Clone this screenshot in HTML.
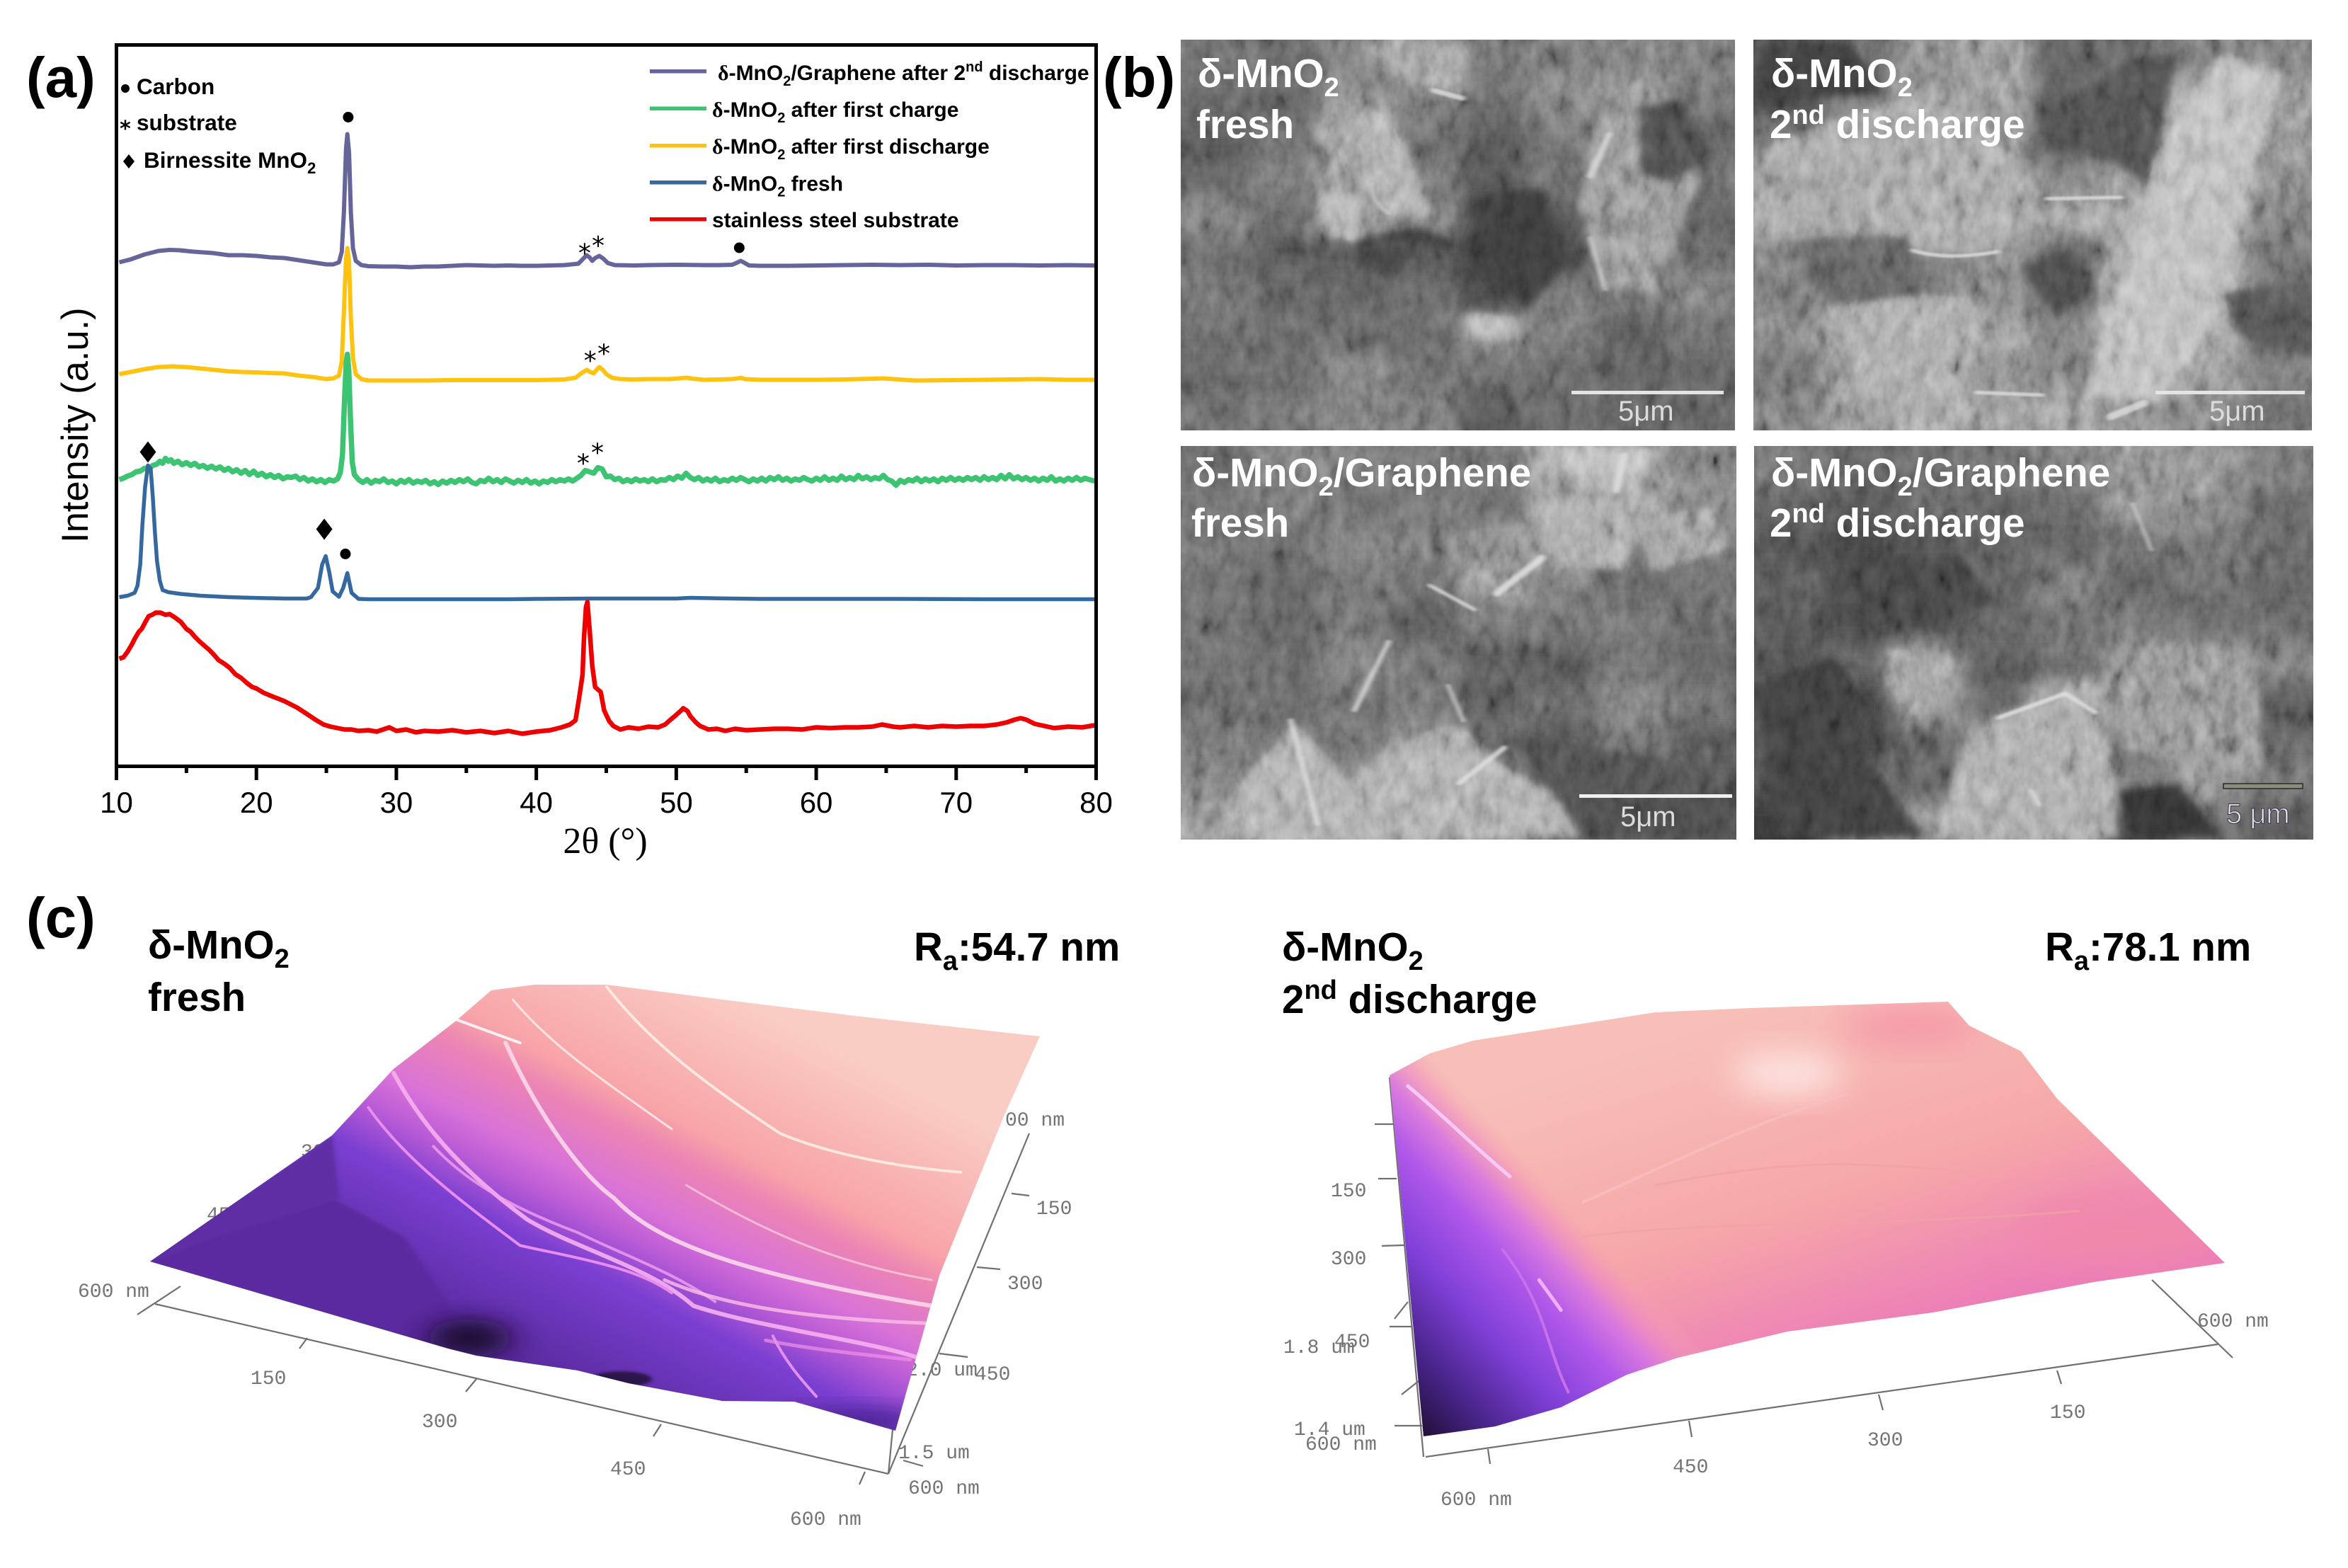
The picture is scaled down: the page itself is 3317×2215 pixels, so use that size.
<!DOCTYPE html>
<html lang="en">
<head>
<meta charset="utf-8">
<title>MnO2 XRD, SEM and AFM figure</title>
<style>
html,body{margin:0;padding:0;background:#fff;}
svg{display:block;}
text{font-family:"Liberation Sans",sans-serif;}
.b{font-weight:bold;}
.sym{font-family:"Liberation Serif",serif;font-weight:bold;}
.lg{font-size:30px;font-weight:bold;fill:#000;}
.key{font-size:31.5px;font-weight:bold;fill:#000;}
.sem{font-size:56.5px;font-weight:bold;fill:#fff;}
.cap{font-size:56.5px;font-weight:bold;fill:#000;}
.panel{font-size:80px;font-weight:bold;fill:#000;}
.afm{font-family:"Liberation Mono",monospace;font-size:28px;fill:#747474;}
.afmline{stroke:#707070;stroke-width:2.2;fill:none;}
.bar{font-size:40px;fill:#dcdcdc;}
</style>
</head>
<body>
<svg id="figure" xmlns="http://www.w3.org/2000/svg" width="3317" height="2215" viewBox="0 0 3317 2215">
<defs>
  <filter id="semBlur" x="-10%" y="-10%" width="120%" height="120%"><feGaussianBlur stdDeviation="14"/></filter>
  <filter id="flakeBlur" x="-30%" y="-30%" width="160%" height="160%"><feGaussianBlur stdDeviation="6 14"/></filter>
  <filter id="soft" x="-30%" y="-30%" width="160%" height="160%"><feGaussianBlur stdDeviation="3"/></filter>
  <filter id="softer" x="-50%" y="-50%" width="200%" height="200%"><feGaussianBlur stdDeviation="24"/></filter>
  <filter id="semNoise" x="0" y="0" width="100%" height="100%">
    <feTurbulence type="fractalNoise" baseFrequency="0.05 0.03" numOctaves="3" seed="7"/>
    <feColorMatrix type="matrix" values="0.6 0.6 0.6 0 -0.4  0.6 0.6 0.6 0 -0.4  0.6 0.6 0.6 0 -0.4  0 0 0 0 1"/>
  </filter>
  <clipPath id="clipSem1"><rect x="1668" y="56" width="783" height="552"/></clipPath>
  <clipPath id="clipSem2"><rect x="2477" y="56" width="789" height="552"/></clipPath>
  <clipPath id="clipSem3"><rect x="1668" y="630" width="785" height="556"/></clipPath>
  <clipPath id="clipSem4"><rect x="2478" y="630" width="790" height="556"/></clipPath>
  <linearGradient id="afmLeftGrad" gradientUnits="userSpaceOnUse" x1="663" y1="1887" x2="934" y2="1357">
    <stop offset="0" stop-color="#5a2ba0"/>
    <stop offset="0.27" stop-color="#7a3fd0"/>
    <stop offset="0.38" stop-color="#bb5cd6"/>
    <stop offset="0.46" stop-color="#d872d8"/>
    <stop offset="0.6" stop-color="#ec84b4"/>
    <stop offset="0.68" stop-color="#f8a4a8"/>
    <stop offset="1" stop-color="#f9ccc4"/>
  </linearGradient>
  <linearGradient id="afmRightBase" gradientUnits="userSpaceOnUse" x1="2500" y1="1420" x2="2650" y2="1900">
    <stop offset="0" stop-color="#f7bfb8"/>
    <stop offset="0.55" stop-color="#f6a8a8"/>
    <stop offset="1" stop-color="#ec7cb8"/>
  </linearGradient>
  <linearGradient id="afmRightLeft" gradientUnits="userSpaceOnUse" x1="2011" y1="2029" x2="2285" y2="1774">
    <stop offset="0" stop-color="#22103a" stop-opacity="1"/>
    <stop offset="0.2" stop-color="#48248a" stop-opacity="1"/>
    <stop offset="0.45" stop-color="#8040d8" stop-opacity="1"/>
    <stop offset="0.68" stop-color="#b058ea" stop-opacity="1"/>
    <stop offset="0.82" stop-color="#d878e0" stop-opacity="0.95"/>
    <stop offset="0.92" stop-color="#f090c0" stop-opacity="0.55"/>
    <stop offset="1" stop-color="#f6a8b0" stop-opacity="0"/>
  </linearGradient>
  <clipPath id="clipAfmLeft"><polygon points="212,1782 469,1604 556,1510 643,1443 694,1399 755,1391 857,1391 1020,1412 1224,1437 1469,1464 1418,1577 1327,1802 1265,2021 1122,1980 1020,1979 888,1954 816,1936 673,1915 633,1905 510,1869"/></clipPath>
  <clipPath id="clipAfmRight"><polygon points="1963,1519 2020,1488 2081,1470 2339,1430 2473,1424 2752,1415 2782,1449 2855,1485 2906,1552 3143,1784 2958,1811 2731,1854 2525,1881 2370,1918 2298,1942 2205,1988 2112,2015 2011,2029"/></clipPath>
</defs>

<rect x="0" y="0" width="3317" height="2215" fill="#fff"/>

<!-- Panel labels -->
<text class="panel" x="37" y="137">(a)</text>
<text class="panel" x="1558" y="137">(b)</text>
<text class="panel" x="37" y="1324">(c)</text>

<!-- XRD chart -->
<g id="xrdChart"></g>

<text transform="translate(124,767) rotate(-90)" font-size="52.5" fill="#000">Intensity (a.u.)</text>
<text x="855" y="1205" text-anchor="middle" font-size="52" fill="#000" style="font-family:'Liberation Serif',serif">2θ (°)</text>

<!-- phase key -->
<g>
  <circle cx="177" cy="125" r="6" fill="#000"/>
  <text class="key" x="193" y="133">Carbon</text>
  <text x="177" y="192" text-anchor="middle" font-size="30" style="font-family:'DejaVu Sans',sans-serif;font-weight:bold">*</text>
  <text class="key" x="193" y="184">substrate</text>
  <polygon points="182,218 190,228 182,238 174,228" fill="#000"/>
  <text class="key" x="203" y="237">Birnessite MnO<tspan font-size="22" dy="8">2</tspan></text>
</g>

<!-- series legend -->
<g>
  <rect x="918" y="98" width="80" height="5.5" fill="#65659a"/>
  <text class="lg" x="1014" y="113"><tspan class="sym">δ</tspan>-MnO<tspan font-size="20" dy="8">2</tspan><tspan dy="-8">/Graphene after 2</tspan><tspan font-size="20" dy="-12">nd</tspan><tspan dy="12"> discharge</tspan></text>
  <rect x="918" y="150.5" width="80" height="5.5" fill="#3dc473"/>
  <text class="lg" x="1006" y="165"><tspan class="sym">δ</tspan>-MnO<tspan font-size="20" dy="8">2</tspan><tspan dy="-8"> after first charge</tspan></text>
  <rect x="918" y="203" width="80" height="5.5" fill="#ffc20e"/>
  <text class="lg" x="1006" y="217"><tspan class="sym">δ</tspan>-MnO<tspan font-size="20" dy="8">2</tspan><tspan dy="-8"> after first discharge</tspan></text>
  <rect x="918" y="255" width="80" height="5.5" fill="#35689e"/>
  <text class="lg" x="1006" y="269.5"><tspan class="sym">δ</tspan>-MnO<tspan font-size="20" dy="8">2</tspan><tspan dy="-8"> fresh</tspan></text>
  <rect x="918" y="307" width="80" height="5.5" fill="#ee0000"/>
  <text class="lg" x="1006" y="321">stainless steel substrate</text>
</g>

<!-- SEM panels -->
<g id="sem1" clip-path="url(#clipSem1)"></g>
<g id="sem2" clip-path="url(#clipSem2)"></g>
<g id="sem3" clip-path="url(#clipSem3)"></g>
<g id="sem4" clip-path="url(#clipSem4)"></g>

<!-- SEM flakes (coordinates are in the micrograph tracing space) -->
<g clip-path="url(#clipSem1)">
  <g transform="translate(1660,30) scale(1.057,0.3827)" filter="url(#flakeBlur)">
    <polygon fill="#8e8e8e" points="250,80 390,80 390,270 300,200"/>
    <polygon fill="#a0a0a0" points="240,330 290,340 320,560 340,720 270,700 260,500"/>
    <polygon fill="#828282" points="560,400 620,320 700,600 640,1000 570,980 540,680"/>
    <polygon fill="#a8a8a8" points="195,640 250,640 245,810 200,780"/>
    <polygon fill="#aaaaaa" points="390,1080 460,1100 450,1180 390,1160"/>
    <polygon fill="#343434" points="250,800 330,760 400,860 420,950 470,1060 530,880 490,620 420,630 390,840"/>
    <polygon fill="#444444" points="620,320 680,290 720,500 660,600 620,560"/>
    <polygon fill="#3c3c3c" points="240,800 330,830 290,950 240,900"/>
  </g>
</g>
<g clip-path="url(#clipSem2)">
  <g transform="translate(1660,30) scale(1.057,0.3827)" filter="url(#flakeBlur)">
    <polygon fill="#b0b0b0" points="1400,120 1480,200 1450,480 1370,1200 1310,1400 1220,1380 1240,1120 1300,620 1330,400"/>
    <polygon fill="#969696" points="780,560 870,590 930,740 1000,850 1100,850 1130,740 1140,600 1080,350 960,300 800,450"/>
    <polygon fill="#9a9a9a" points="880,1060 1000,1010 1075,1040 1060,1300 1010,1370 920,1400"/>
    <polygon fill="#373737" points="780,90 900,70 950,270 850,280 780,320"/>
    <polygon fill="#464646" points="1150,340 1200,280 1280,130 1340,120 1300,600 1260,530 1180,430"/>
    <polygon fill="#424242" points="1130,900 1200,840 1220,1000 1180,1080 1150,1000"/>
    <polygon fill="#4b4b4b" points="1400,1000 1520,960 1520,1240 1420,1160"/>
    <polygon fill="#585858" points="830,810 980,790 1000,900 1000,1010 880,1050 840,950"/>
  </g>
</g>
<g clip-path="url(#clipSem3)">
  <g transform="translate(1660,620) scale(1.057,0.3827)" filter="url(#flakeBlur)">
    <polygon fill="#9a9a9a" points="480,230 590,220 620,350 600,480 500,460"/>
    <polygon fill="#8e8e8e" points="610,280 720,260 740,400 640,490"/>
    <polygon fill="#b0b0b0" points="510,30 640,30 620,200 540,180"/>
    <polygon fill="#9e9e9e" points="80,1310 130,1150 160,1050 230,1270 290,1130 380,1060 430,1200 500,1300 540,1470 70,1470"/>
    <polygon fill="#464646" points="440,1100 530,1130 640,1170 740,1320 540,1320 540,1470 500,1280"/>
    <polygon fill="#424242" points="540,1320 750,1320 750,1470 540,1470"/>
  </g>
</g>
<g clip-path="url(#clipSem4)">
  <g transform="translate(1660,620) scale(1.057,0.3827)" filter="url(#flakeBlur)">
    <polygon fill="#9a9a9a" points="1020,1470 1050,1150 1100,1030 1200,900 1240,1100 1260,1470"/>
    <polygon fill="#808080" points="1240,950 1340,750 1450,820 1450,1250 1270,1150"/>
    <polygon fill="#8e8e8e" points="950,780 1030,800 1040,950 990,1020 950,900"/>
    <polygon fill="#7c7c7c" points="1260,40 1420,50 1360,250 1280,220"/>
    <polygon fill="#373737" points="780,900 880,800 930,1000 900,1080 1000,1470 800,1470"/>
    <polygon fill="#3c3c3c" points="900,430 1050,430 1100,600 1000,700 920,620"/>
    <polygon fill="#2e2e2e" points="1260,1300 1340,1270 1400,1470 1280,1470"/>
  </g>
</g>

<g style="mix-blend-mode:overlay" opacity="0.5">
  <rect x="1668" y="56" width="783" height="552" filter="url(#semNoise)"/>
  <rect x="2477" y="56" width="789" height="552" filter="url(#semNoise)"/>
  <rect x="1668" y="630" width="785" height="556" filter="url(#semNoise)"/>
  <rect x="2478" y="630" width="790" height="556" filter="url(#semNoise)"/>
</g>

<g transform="translate(1660,30) scale(1.057,0.3827)" fill="none" stroke="#dcdcdc" stroke-linecap="round" filter="url(#soft)" opacity="0.85">
  <path vector-effect="non-scaling-stroke" stroke-width="5" d="M555,800 L575,990"/>
  <path vector-effect="non-scaling-stroke" stroke-width="9" d="M580,420 L555,570"/>
  <path vector-effect="non-scaling-stroke" stroke-width="4" d="M262,600 Q262,660 285,710"/>
  <path vector-effect="non-scaling-stroke" stroke-width="7" d="M345,255 L385,285"/>
  <path vector-effect="non-scaling-stroke" stroke-width="5" d="M985,845 Q1030,885 1100,850"/>
  <path vector-effect="non-scaling-stroke" stroke-width="5" d="M1165,655 L1265,650"/>
  <path vector-effect="non-scaling-stroke" stroke-width="5" d="M1070,1370 L1160,1380"/>
  <path vector-effect="non-scaling-stroke" stroke-width="10" d="M1250,1460 L1295,1410"/>
</g>
<g transform="translate(1660,620) scale(1.057,0.3827)" fill="none" stroke="#e2e2e2" stroke-linecap="round" filter="url(#soft)" opacity="0.85">
  <path vector-effect="non-scaling-stroke" stroke-width="7" d="M155,1040 L190,1420"/>
  <path vector-effect="non-scaling-stroke" stroke-width="10" d="M430,570 L490,440"/>
  <path vector-effect="non-scaling-stroke" stroke-width="5" d="M365,910 L385,1040"/>
  <path vector-effect="non-scaling-stroke" stroke-width="7" d="M240,1000 L285,750"/>
  <path vector-effect="non-scaling-stroke" stroke-width="7" d="M380,1270 L440,1140"/>
  <path vector-effect="non-scaling-stroke" stroke-width="5" d="M340,540 L400,630"/>
  <path vector-effect="non-scaling-stroke" stroke-width="6" d="M1100,1030 L1190,940 L1230,1010"/>
  <path vector-effect="non-scaling-stroke" stroke-width="4" d="M1280,240 L1305,410"/>
  <path vector-effect="non-scaling-stroke" stroke-width="6" d="M1145,1300 L1155,1350"/>
  <path vector-effect="non-scaling-stroke" stroke-width="8" d="M600,60 L590,190"/>
</g>

<!-- SEM captions -->
<text class="sem" x="1692" y="123">δ-MnO<tspan font-size="38" dy="13">2</tspan></text>
<text class="sem" x="1690" y="195">fresh</text>
<text class="sem" x="2502" y="123">δ-MnO<tspan font-size="38" dy="13">2</tspan></text>
<text class="sem" x="2500" y="195">2<tspan font-size="38" dy="-20">nd</tspan><tspan dy="20"> discharge</tspan></text>
<text class="sem" x="1684" y="687">δ-MnO<tspan font-size="38" dy="13">2</tspan><tspan dy="-13">/Graphene</tspan></text>
<text class="sem" x="1683" y="758">fresh</text>
<text class="sem" x="2502" y="687">δ-MnO<tspan font-size="38" dy="13">2</tspan><tspan dy="-13">/Graphene</tspan></text>
<text class="sem" x="2500" y="758">2<tspan font-size="38" dy="-20">nd</tspan><tspan dy="20"> discharge</tspan></text>

<!-- SEM scale bars -->
<rect x="2220" y="552" width="215" height="5" fill="#e4e4e4"/>
<text class="bar" x="2286" y="594">5μm</text>
<rect x="3045" y="552" width="211" height="5" fill="#e4e4e4"/>
<text class="bar" x="3121" y="594">5μm</text>
<rect x="2231" y="1122" width="216" height="5" fill="#f0f0f0"/>
<text class="bar" x="2289" y="1167">5μm</text>
<rect x="3141" y="1107" width="112" height="7" fill="#8c8c7c" stroke="#2a2a2a" stroke-width="1.5"/>
<text class="bar" x="3145" y="1163" fill="#c8c4d0" stroke="#3a3048" stroke-width="1">5 μm</text>

<!-- AFM left -->
<g>
  <text class="cap" x="209" y="1354">δ-MnO<tspan font-size="38" dy="13">2</tspan></text>
  <text class="cap" x="209" y="1428">fresh</text>
  <text class="cap" x="1291" y="1357">R<tspan font-size="38" dy="13">a</tspan><tspan dy="-13">:54.7 nm</tspan></text>

  <g>
    <path class="afmline" d="M219,1842 L1255,2082 M1255,2082 L1454,1601 M1255,2082 L1276,1863"/>
    <path class="afmline" d="M194,1857 L255,1817 M423,1905 L434,1890 M658,1966 L673,1948 M923,2029 L934,2012 M1214,2097 L1222,2079 M1276,2063 L1304,2071 M1327,1912 L1367,1917 M1380,1790 L1413,1793 M1429,1686 L1454,1689 M1276,1863 L1296,1878"/>
    <text class="afm" x="110" y="1832">600 nm</text>
    <text class="afm" x="354" y="1955">150</text>
    <text class="afm" x="596" y="2016">300</text>
    <text class="afm" x="862" y="2083">450</text>
    <text class="afm" x="1116" y="2154">600 nm</text>
    <text class="afm" x="1283" y="2110">600 nm</text>
    <text class="afm" x="1269" y="2060">1.5 um</text>
    <text class="afm" x="1280" y="1943">2.0 um</text>
    <text class="afm" x="1377" y="1949">450</text>
    <text class="afm" x="1423" y="1821">300</text>
    <text class="afm" x="1464" y="1715">150</text>
    <text class="afm" x="1420" y="1590">00 nm</text>
    <text class="afm" x="425" y="1635">30</text>
    <text class="afm" x="292" y="1724">45</text>
  </g>

  <g clip-path="url(#clipAfmLeft)">
    <rect x="150" y="1370" width="1350" height="680" fill="url(#afmLeftGrad)"/>
    <g transform="translate(0,1260) scale(1.0204,0.609)">
      <polygon points="208,858 460,710 560,800 620,950 650,1060 500,1000" fill="#5c2ca0" filter="url(#soft)"/>
      <polygon points="460,565 470,710 300,800 208,858" fill="#5e2ea4" filter="url(#soft)"/>
      <ellipse cx="650" cy="1035" rx="58" ry="45" fill="#1c0e30" filter="url(#softer)"/>
      <ellipse cx="860" cy="1130" rx="42" ry="18" fill="#2a1548" filter="url(#soft)"/>
      <ellipse cx="1180" cy="1230" rx="100" ry="30" fill="#4a2490" filter="url(#softer)"/>
      <g fill="none" stroke-linecap="round">
        <path vector-effect="non-scaling-stroke" stroke="#fbe8e0" stroke-width="4" d="M840,220 C900,350 980,450 1080,560 C1150,610 1250,640 1330,650"/>
        <path vector-effect="non-scaling-stroke" stroke="#fde4e4" stroke-width="3" d="M710,250 C760,350 820,420 930,550"/>
        <path vector-effect="non-scaling-stroke" stroke="#fdd8ea" stroke-width="6" opacity="0.9" d="M700,350 C740,500 800,650 850,710 C900,800 1000,880 1290,960"/>
        <path vector-effect="non-scaling-stroke" stroke="#f8b0f0" stroke-width="6" opacity="0.9" d="M545,420 C590,560 650,660 730,760 C800,830 900,870 960,960 C1050,1010 1200,1040 1270,1080"/>
        <path vector-effect="non-scaling-stroke" stroke="#fff0f4" stroke-width="4" d="M630,295 L720,350"/>
        <path vector-effect="non-scaling-stroke" stroke="#e88cf0" stroke-width="4" d="M510,500 C560,620 640,720 720,820 C800,850 880,870 930,930"/>
        <path vector-effect="non-scaling-stroke" stroke="#e090f0" stroke-width="4" d="M1070,1030 C1090,1100 1120,1150 1130,1170"/>
        <path vector-effect="non-scaling-stroke" stroke="#fbd6e0" stroke-width="3" opacity="0.7" d="M950,680 C1050,780 1150,860 1290,900"/>
        <path vector-effect="non-scaling-stroke" stroke="#f4a0f0" stroke-width="4" opacity="0.8" d="M600,590 C650,680 720,740 800,790 C860,840 930,880 990,950"/>
        <path vector-effect="non-scaling-stroke" stroke="#fbc0e8" stroke-width="5" opacity="0.8" d="M920,900 C1000,960 1120,990 1280,1000"/>
        <path vector-effect="non-scaling-stroke" stroke="#f090e8" stroke-width="5" opacity="0.7" d="M1060,1040 C1120,1060 1180,1070 1260,1085"/>
      </g>
    </g>
  </g>
</g>

<!-- AFM right -->
<g>
  <text class="cap" x="1811" y="1357">δ-MnO<tspan font-size="38" dy="13">2</tspan></text>
  <text class="cap" x="1811" y="1431">2<tspan font-size="38" dy="-20">nd</tspan><tspan dy="20"> discharge</tspan></text>
  <text class="cap" x="2889" y="1357">R<tspan font-size="38" dy="13">a</tspan><tspan dy="-13">:78.1 nm</tspan></text>

  <g>
    <path class="afmline" d="M2014,2058 L3133,1899 M2011,2058 L1963,1522 M3040,1808 L3154,1918"/>
    <path class="afmline" d="M2102,2047 L2105,2068 M2386,2007 L2390,2030 M2654,1970 L2660,1992 M2906,1936 L2912,1955 M1942,1588 L1970,1588 M1947,1665 L1973,1665 M1952,1760 L1984,1759 M1963,1874 L1994,1874 M1970,2014 L2009,2014 M1970,1863 L1989,1839 M1980,1970 L2004,1951"/>
    <text class="afm" x="1880" y="1690">150</text>
    <text class="afm" x="1880" y="1786">300</text>
    <text class="afm" x="1813" y="1911">1.8 um</text>
    <text class="afm" x="1885" y="1903">450</text>
    <text class="afm" x="1828" y="2027">1.4 um</text>
    <text class="afm" x="1844" y="2048">600 nm</text>
    <text class="afm" x="2035" y="2126">600 nm</text>
    <text class="afm" x="2363" y="2080">450</text>
    <text class="afm" x="2638" y="2042">300</text>
    <text class="afm" x="2896" y="2003">150</text>
    <text class="afm" x="3104" y="1874">600 nm</text>
  </g>

  <g clip-path="url(#clipAfmRight)">
    <rect x="1950" y="1400" width="1210" height="650" fill="url(#afmRightBase)"/>
    <ellipse cx="2525" cy="1516" rx="80" ry="30" fill="#fde6e2" filter="url(#softer)"/>
    <ellipse cx="2700" cy="1450" rx="100" ry="26" fill="#f496a8" filter="url(#softer)"/>
    <ellipse cx="3000" cy="1740" rx="150" ry="50" fill="#f088ac" filter="url(#softer)"/>
    <rect x="1950" y="1400" width="1210" height="650" fill="url(#afmRightLeft)"/>
    <g transform="translate(1700,1260) scale(1.031,0.609)" fill="none" stroke-linecap="round">
      <path vector-effect="non-scaling-stroke" stroke="#f8c8f8" stroke-width="5" d="M280,450 C330,520 370,590 420,660"/>
      <path vector-effect="non-scaling-stroke" stroke="#f0b0f8" stroke-width="5" d="M460,900 L490,970"/>
      <path vector-effect="non-scaling-stroke" stroke="#c870ec" stroke-width="4" d="M410,830 C470,960 470,1060 500,1160"/>
      <path vector-effect="non-scaling-stroke" stroke="#f8c0c4" stroke-width="4" opacity="0.7" d="M520,720 C640,630 760,530 880,470"/>
      <path vector-effect="non-scaling-stroke" stroke="#f0a4a4" stroke-width="3" opacity="0.7" d="M620,680 C800,620 900,620 1100,660"/>
      <path vector-effect="non-scaling-stroke" stroke="#f0a4a4" stroke-width="3" opacity="0.7" d="M520,800 C700,760 900,780 1200,740"/>
    </g>
  </g>
</g>

<script>
// ---- XRD data: [2-theta in degrees, intensity in a.u. counts] ----
const xMajorTicks = [10, 20, 30, 40, 50, 60, 70, 80];
const xMinorTicks = [15, 25, 35, 45, 55, 65, 75];

const grapheneDischargeTrace = [[10.2,712],[11,716],[12,723],[13,728],[13.8,729.5],[14.5,729],[15.5,727],[16.9,725],[18,722],[19,722],[20,721],[21,719],[22,718],[23,715],[24,712],[25,709],[25.5,709],[25.9,712],[26.1,727],[26.25,782],[26.4,872],[26.5,893],[26.62,867],[26.75,782],[26.9,732],[27.1,714],[27.5,708],[28,706.5],[29,706],[30,706],[31,705],[32,706],[33,706],[34,707],[35,708],[36,707.5],[37,707],[38,707.5],[39,707],[40,707],[41,707.5],[42,708],[43,710],[43.3,716],[43.6,722],[43.8,719],[44,714],[44.2,718],[44.5,721],[44.8,717],[45.1,711],[45.6,708],[47,707.5],[48,708],[50,708.5],[52,708],[53,708],[54,708.5],[54.4,712],[54.6,714],[54.8,712],[55.2,707.5],[56,707],[58,707],[60,707.5],[62,708],[64,708.5],[66,708],[68,708.5],[70,707.5],[72,708],[74,708],[76,707.5],[78,708],[79.9,707.5]];

const firstDischargeTrace = [[10.2,554],[11,557],[12,561],[13,564],[14,565],[15,564],[16,562],[17,560],[18,558],[19,557],[20,556.5],[21,555.5],[22,555],[23,552],[24,550],[25,547],[25.5,548],[25.9,552],[26.1,572],[26.25,642],[26.4,717],[26.5,732],[26.62,712],[26.75,632],[26.9,577],[27.1,554],[27.5,547],[28,545],[30,545],[32,545],[34,545.5],[36,545.5],[38,545.5],[40,545.5],[41,546],[42,546.5],[42.8,549],[43.2,555],[43.6,560],[43.85,557],[44.1,555],[44.3,560],[44.5,564],[44.75,560],[45,554],[45.4,549],[46,547],[47,546.5],[48,547],[49.5,547],[50.2,548],[50.7,549],[51.2,547.5],[52,546],[54,547],[54.4,548],[54.6,549],[54.9,547],[56,546],[58,546],[60,546],[62,546.5],[64,547.5],[64.8,548],[65.5,547],[67,545],[70,545.5],[72,546],[74,546.5],[76,547],[78,546],[79.9,546]];

const firstChargeTrace = [[10.2,405],[10.5,407],[10.8,410],[11.1,412],[11.4,416],[11.7,417],[12,421],[12.3,420],[12.6,425],[12.9,427],[13.1,431],[13.3,428],[13.5,435],[13.7,431],[13.9,433],[14.1,428],[14.4,431],[14.7,426],[15,429],[15.3,425],[15.6,428],[15.9,423],[16.2,425],[16.5,421],[16.8,424],[17.1,420],[17.4,423],[17.7,418],[18,421],[18.3,416],[18.6,419],[18.9,414],[19.2,418],[19.5,412],[19.8,417],[20.1,411],[20.4,414],[20.7,409],[21,412],[21.3,408],[21.6,411],[21.9,406],[22.2,409],[22.5,408],[22.8,410],[23.1,405],[23.4,408],[23.7,403],[24,406],[24.3,402],[24.6,405],[24.9,401],[25.2,405],[25.5,403],[25.8,406],[26,415],[26.15,440],[26.3,520],[26.42,570],[26.5,582],[26.6,560],[26.72,490],[26.85,430],[27,412],[27.3,405],[27.6,401],[27.9,405],[28.2,400],[28.5,404],[28.8,402],[29.1,406],[29.4,401],[29.7,403],[30,399],[30.3,404],[30.6,401],[30.9,405],[31.2,400],[31.5,403],[31.8,401],[32.1,404],[32.4,399],[32.7,402],[33,398],[33.3,403],[33.6,400],[33.9,404],[34.2,401],[34.5,405],[34.8,402],[35.1,406],[35.4,401],[35.7,399],[36,404],[36.3,402],[36.6,407],[36.9,402],[37.2,405],[37.5,401],[37.8,406],[38.1,403],[38.4,400],[38.7,404],[39,401],[39.3,405],[39.6,400],[39.9,403],[40.2,399],[40.5,403],[40.8,401],[41.1,405],[41.4,402],[41.7,405],[42,403],[42.3,406],[42.6,403],[42.9,407],[43.2,411],[43.5,418],[43.8,416],[44.1,414],[44.4,422],[44.7,420],[45,409],[45.3,410],[45.6,405],[45.9,407],[46.2,402],[46.5,405],[46.8,402],[47.1,406],[47.4,403],[47.7,405],[48,402],[48.3,406],[48.6,402],[48.9,405],[49.2,404],[49.5,408],[49.8,405],[50.1,410],[50.4,407],[50.7,414],[51,408],[51.3,405],[51.6,408],[51.9,403],[52.2,406],[52.5,403],[52.8,407],[53.1,402],[53.4,405],[53.7,403],[54,407],[54.3,404],[54.6,408],[54.9,405],[55.2,402],[55.5,406],[55.8,403],[56.1,407],[56.4,403],[56.7,408],[57,405],[57.3,409],[57.6,404],[57.9,407],[58.2,403],[58.5,406],[58.8,404],[59.1,408],[59.4,405],[59.7,403],[60,407],[60.3,404],[60.6,409],[60.9,404],[61.2,407],[61.5,404],[61.8,410],[62.1,405],[62.4,408],[62.7,405],[63,411],[63.3,406],[63.6,409],[63.9,405],[64.2,408],[64.5,406],[64.8,411],[65.1,405],[65.4,403],[65.7,397],[66,404],[66.3,401],[66.6,405],[66.9,403],[67.2,407],[67.5,402],[67.8,406],[68.1,403],[68.4,406],[68.7,402],[69,407],[69.3,404],[69.6,408],[69.9,404],[70.2,407],[70.5,404],[70.8,408],[71.1,405],[71.4,408],[71.7,404],[72,409],[72.3,405],[72.6,408],[72.9,405],[73.2,411],[73.5,406],[73.8,412],[74.1,406],[74.4,409],[74.7,405],[75,408],[75.3,404],[75.6,407],[75.9,403],[76.2,407],[76.5,404],[76.8,409],[77.1,403],[77.4,406],[77.7,403],[78,407],[78.3,404],[78.6,408],[78.9,404],[79.2,407],[79.5,405],[79.9,403]];

const freshTrace = [[10.2,239],[10.8,241],[11.3,245],[11.5,255],[11.7,285],[11.85,340],[12.05,395],[12.25,425],[12.45,420],[12.6,380],[12.75,330],[12.9,290],[13.1,262],[13.3,249],[13.7,246],[14.6,243.5],[16,241],[18,239],[19.7,238],[22,237],[23.6,237],[23.9,239],[24.4,252],[24.7,285],[24.95,297],[25.2,275],[25.45,247],[25.9,239.5],[26.2,252],[26.5,273],[26.8,245],[27.3,236.5],[28,236],[32,236],[38,236],[40,236.5],[44,237],[50,237],[51,238],[54,237],[56,236.5],[60,236.5],[66,236.5],[72,236],[79.9,236]];

const stainlessTrace = [[10.2,152],[10.5,154],[10.8,162],[11.1,172],[11.3,180],[11.6,190],[11.8,194],[12.1,205],[12.3,212],[12.55,214],[12.8,217],[13.15,217],[13.5,214],[13.8,215],[14.2,210],[14.6,204],[15,194],[15.3,190],[15.6,183],[15.9,177],[16.3,170],[16.6,165],[16.9,159],[17.3,150],[17.7,145],[18.1,139],[18.5,130],[18.9,125],[19.3,118],[19.7,112],[20,110],[20.5,104],[21.1,99],[21.5,96],[22,92],[22.4,88],[22.9,83],[23.6,74],[24.2,66],[24.8,59],[25.3,56],[25.8,54],[26.3,52],[26.8,52],[27.3,50],[28,51],[28.6,49],[29.5,55],[30,50],[30.7,52],[31.4,48],[32,50],[33,49],[34,51],[35,48],[36,50],[37,47],[38,50],[39,46],[40,49],[41,51],[41.8,55],[42.4,59],[42.8,65],[43.05,95],[43.3,129],[43.4,179],[43.55,225],[43.65,232],[43.8,195],[44,142],[44.2,112],[44.6,105],[44.85,79],[45.2,64],[45.5,57],[46,52],[46.6,55],[47.3,53],[48,56],[48.7,55],[49.2,59],[49.6,66],[49.9,71],[50.3,78],[50.5,82],[50.8,78],[51,71],[51.4,62],[51.7,57],[52.3,52],[52.9,53],[53.5,50],[54.2,53],[55,51],[56,52],[57,53],[58,53],[59,52],[60,55],[61,54],[62,55],[63,55],[64,56],[64.7,59],[65.5,56],[66,55],[67,57],[68,55],[69,57],[70,56],[71,57],[72,57],[72.9,59],[73.6,62],[74.2,66],[74.6,68],[75,66],[75.6,60],[76.3,57],[77,54],[78,56],[79,55],[79.9,58]];

const carbonMarkers = [[26.56,917],[54.5,732.5],[26.36,300]];
const birnessiteMarkers = [[12.25,444],[24.85,335]];
const substrateMarkers = [[43.45,732],[44.42,742.5],[43.85,580],[44.82,590],[43.35,435],[44.37,450]];

// ---- SEM panels: coarse grey-level maps ----
const semFreshGrey = [
 [95,90,110,130,100,105,110,105],[90,85,120,110,95,115,125,100],[80,95,145,95,75,100,130,85],[85,105,130,100,75,95,130,95],[110,90,130,115,55,80,135,85],
 [90,80,75,75,55,60,120,90],[100,85,85,90,60,100,100,110],[95,90,90,90,115,105,80,95],[85,90,110,95,95,90,85,85],[95,100,110,105,75,90,85,85]];
const semDischargeGrey = [
 [70,90,120,130,85,90,105,110],[60,100,135,130,80,110,165,130],[100,125,130,125,60,100,170,125],[130,135,135,125,110,125,175,120],[150,140,145,145,140,150,170,110],
 [110,105,110,120,85,130,160,100],[105,110,105,115,85,150,165,100],[115,130,155,130,110,170,150,80],[100,125,160,120,110,155,130,105],[110,130,150,135,135,125,115,95]];
const semGrapheneFreshGrey = [
 [90,110,105,100,100,150,125,110],[100,105,95,100,95,130,140,115],[100,95,110,105,120,135,100,100],[95,85,100,95,130,105,90,95],[95,85,100,80,100,100,100,90],
 [95,90,110,100,80,75,100,85],[90,90,95,100,80,90,110,95],[100,100,100,115,90,75,100,80],[110,130,115,140,100,70,70,75],[130,155,140,145,125,90,80,75]];
const semGrapheneDischargeGrey = [
 [100,85,90,95,110,125,120,105],[85,75,90,85,90,125,115,90],[70,60,70,85,85,95,100,90],[80,65,85,85,105,85,95,85],[75,60,65,85,95,100,90,90],
 [70,85,130,80,90,125,130,110],[65,60,125,85,145,125,135,75],[70,60,85,135,155,90,120,85],[75,85,85,140,150,105,125,100],[45,100,120,140,150,60,95,80]];

// ---- axes ----
const svgNS = 'http://www.w3.org/2000/svg';
const plotLeft = 164.5, plotRight = 1548.5, plotTop = 63.5, plotBottom = 1082.5;
const thetaMin = 10, thetaMax = 80, intensityMin = 0, intensityMax = 1019;
function xScale(theta){ return plotLeft + (theta - thetaMin) / (thetaMax - thetaMin) * (plotRight - plotLeft); }
function yScale(v){ return plotBottom - (v - intensityMin) / (intensityMax - intensityMin) * (plotBottom - plotTop); }
function mk(tag, attrs, parent){
  const el = document.createElementNS(svgNS, tag);
  for (const k in attrs) el.setAttribute(k, attrs[k]);
  parent.appendChild(el);
  return el;
}

const chart = document.getElementById('xrdChart');

function drawTrace(trace, color, width, name){
  const d = trace.map(function(p, i){ return (i ? 'L' : 'M') + xScale(p[0]).toFixed(1) + ',' + yScale(p[1]).toFixed(1); }).join(' ');
  const el = mk('path', {d: d, fill: 'none', stroke: color, 'stroke-width': width, 'stroke-linejoin': 'round'}, chart);
  
  
}
drawTrace(grapheneDischargeTrace, '#65659a', 6, 'series-graphene-2nd-discharge');
drawTrace(firstDischargeTrace, '#ffc20e', 6, 'series-first-discharge');
drawTrace(firstChargeTrace, '#3dc473', 7.5, 'series-first-charge');
drawTrace(freshTrace, '#35689e', 5.5, 'series-fresh');
drawTrace(stainlessTrace, '#ee0000', 6.5, 'series-stainless-steel');

carbonMarkers.forEach(function(p){
  const el = mk('circle', {cx: xScale(p[0]), cy: yScale(p[1]), r: 7.5, fill: '#000'}, chart);
  
  
});
birnessiteMarkers.forEach(function(p){
  const cx = xScale(p[0]), cy = yScale(p[1]);
  const el = mk('polygon', {points: cx + ',' + (cy - 15) + ' ' + (cx + 11.5) + ',' + cy + ' ' + cx + ',' + (cy + 15) + ' ' + (cx - 11.5) + ',' + cy, fill: '#000'}, chart);
  
  
});
substrateMarkers.forEach(function(p){
  const el = mk('text', {x: xScale(p[0]), y: yScale(p[1]) + 19, 'text-anchor': 'middle', 'font-size': 36, style: "font-family:'DejaVu Sans',sans-serif"}, chart);
  el.textContent = '*';
  
  
});

const frame = mk('rect', {x: plotLeft, y: plotTop, width: plotRight - plotLeft, height: plotBottom - plotTop, fill: 'none', stroke: '#000', 'stroke-width': 5}, chart);



xMajorTicks.forEach(function(t){
  const tick = mk('line', {x1: xScale(t), x2: xScale(t), y1: plotBottom, y2: 1102, stroke: '#000', 'stroke-width': 5}, chart);
  
  
  const label = mk('text', {x: xScale(t), y: 1148, 'text-anchor': 'middle', 'font-size': 42, fill: '#000'}, chart);
  label.textContent = t;
  
  
});
xMinorTicks.forEach(function(t){
  const tick = mk('line', {x1: xScale(t), x2: xScale(t), y1: plotBottom, y2: 1092, stroke: '#000', 'stroke-width': 5}, chart);
  
  
});

// ---- SEM tile drawing ----
function drawSem(groupId, grey, x, y, w, h){
  const group = document.getElementById(groupId);
  const inner = mk('g', {filter: 'url(#semBlur)'}, group);
  const rows = grey.length, cols = grey[0].length;
  const cw = w / cols, ch = h / rows;
  grey.forEach(function(row, r){
    row.forEach(function(g, c){
      const left = c === 0 ? x - 70 : x + c * cw;
      const top = r === 0 ? y - 70 : y + r * ch;
      const right = c === cols - 1 ? x + w + 70 : x + (c + 1) * cw;
      const bottom = r === rows - 1 ? y + h + 70 : y + (r + 1) * ch;
      const cell = mk('rect', {x: left, y: top, width: right - left + 1, height: bottom - top + 1, fill: 'rgb(' + g + ',' + g + ',' + g + ')'}, inner);
      
      
    });
  });
}
drawSem('sem1', semFreshGrey, 1668, 56, 783, 552);
drawSem('sem2', semDischargeGrey, 2477, 56, 789, 552);
drawSem('sem3', semGrapheneFreshGrey, 1668, 630, 785, 556);
drawSem('sem4', semGrapheneDischargeGrey, 2478, 630, 790, 556);
</script>
</svg>
</body>
</html>
